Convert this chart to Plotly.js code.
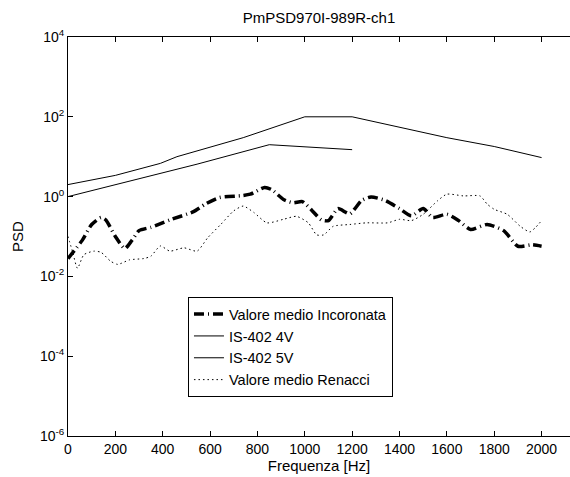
<!DOCTYPE html>
<html>
<head>
<meta charset="utf-8">
<script src="https://cdn.plot.ly/plotly-3.0.1.min.js"></script>
<style>html,body{margin:0;padding:0;background:#fff;overflow:hidden}#chart{width:570px;height:477px}</style>
</head>
<body>
<div id="chart"></div>
<script>
// Valore medio Incoronata (dash-dot, thick)
var incX = [0, 60, 100, 140, 160, 200, 240, 270, 300, 350, 430, 530, 580, 640, 730, 770, 830, 860, 910, 950, 990, 1030, 1070, 1100, 1140, 1190, 1240, 1280, 1340, 1400, 1450, 1500, 1540, 1600, 1650, 1700, 1770, 1840, 1900, 1960, 2000];
var incY = [0.028, 0.08, 0.2, 0.3, 0.26, 0.1, 0.05, 0.08, 0.14, 0.17, 0.26, 0.42, 0.65, 0.95, 1.05, 1.15, 1.7, 1.5, 0.85, 0.7, 0.75, 0.45, 0.26, 0.25, 0.5, 0.37, 0.8, 0.98, 0.8, 0.5, 0.33, 0.5, 0.3, 0.36, 0.25, 0.15, 0.2, 0.14, 0.057, 0.062, 0.057];

// IS-402 4V (solid)
var v4X = [0, 200, 390, 460, 740, 1000, 1200, 1400, 1600, 1800, 2000];
var v4Y = [2.0, 3.4, 6.8, 10, 30, 100, 100, 56, 30, 18, 9.5];

// IS-402 5V (solid)
var v5X = [0, 280, 545, 850, 975, 1080, 1200];
var v5Y = [1.0, 2.6, 6.5, 20, 18, 16.5, 15];

// Valore medio Renacci (dotted)
var renX = [0, 20, 40, 67, 110, 140, 180, 210, 260, 320, 350, 390, 430, 490, 545, 590, 645, 700, 740, 785, 840, 910, 965, 1015, 1050, 1080, 1120, 1190, 1260, 1350, 1400, 1450, 1500, 1560, 1600, 1670, 1740, 1770, 1800, 1855, 1910, 1950, 1975, 2000];
var renY = [0.1, 0.04, 0.016, 0.035, 0.043, 0.04, 0.024, 0.02, 0.026, 0.028, 0.032, 0.058, 0.043, 0.052, 0.043, 0.093, 0.2, 0.44, 0.58, 0.4, 0.22, 0.27, 0.32, 0.22, 0.11, 0.11, 0.18, 0.2, 0.22, 0.22, 0.27, 0.25, 0.36, 0.78, 1.15, 1.04, 1.04, 0.65, 0.48, 0.36, 0.18, 0.13, 0.17, 0.25];

var xTicks = [0, 200, 400, 600, 800, 1000, 1200, 1400, 1600, 1800, 2000];
var yTickVals = [1e-6, 1e-4, 1e-2, 1, 1e2, 1e4];
var yTickText = ['10<sup>-6</sup>', '10<sup>-4</sup>', '10<sup>-2</sup>', '10<sup>0</sup>', '10<sup>2</sup>', '10<sup>4</sup>'];

var FONT = '"Liberation Sans", Arial, Helvetica, sans-serif';

var traces = [
  {x: incX, y: incY, name: 'Valore medio Incoronata', mode: 'lines',
   line: {color: '#000', width: 3.5, dash: '10px,4px,1px,4px', shape: 'spline', smoothing: 0.6}},
  {x: v4X, y: v4Y, name: 'IS-402 4V', mode: 'lines', line: {color: '#000', width: 1}},
  {x: v5X, y: v5Y, name: 'IS-402 5V', mode: 'lines', line: {color: '#000', width: 1}},
  {x: renX, y: renY, name: 'Valore medio Renacci', mode: 'lines',
   line: {color: '#000', width: 1, dash: '1.5px,3px', shape: 'spline', smoothing: 0.6}}
];

var layout = {
  width: 570, height: 477,
  margin: {l: 68, r: 0, t: 37, b: 41},
  paper_bgcolor: '#fff', plot_bgcolor: '#fff',
  font: {family: FONT, size: 14, color: '#000'},
  showlegend: true,
  title: {text: 'PmPSD970I-989R-ch1', x: 0.5, xref: 'paper', xanchor: 'center',
          y: 0.963, yref: 'container', yanchor: 'middle', font: {family: FONT, size: 15, color: '#000'}},
  xaxis: {
    range: [0, 2120], tickmode: 'array', tickvals: xTicks,
    ticks: 'inside', ticklen: 5, tickcolor: '#000', tickwidth: 1,
    showline: true, linecolor: '#000', linewidth: 1, mirror: 'ticks',
    showgrid: false, zeroline: false,
    tickfont: {family: FONT, size: 14, color: '#000'},
    title: {text: 'Frequenza [Hz]', font: {family: FONT, size: 15, color: '#000'}, standoff: 4}
  },
  yaxis: {
    type: 'log', range: [-6, 4], tickmode: 'array', tickvals: yTickVals, ticktext: yTickText,
    ticks: 'inside', ticklen: 5, tickcolor: '#000', tickwidth: 1,
    showline: true, linecolor: '#000', linewidth: 1, mirror: false,
    showgrid: false, zeroline: false,
    tickfont: {family: FONT, size: 14, color: '#000'},
    title: {text: 'PSD', font: {family: FONT, size: 15, color: '#000'}, standoff: 12}
  },
  legend: {
    x: 0.239, y: 0.348, xanchor: 'left', yanchor: 'top',
    bgcolor: '#fff', bordercolor: '#000', borderwidth: 1,
    font: {family: FONT, size: 14.5, color: '#000'}, tracegroupgap: 0
  }
};

Plotly.newPlot('chart', traces, layout, {staticPlot: true, displayModeBar: false});
</script>
</body>
</html>
